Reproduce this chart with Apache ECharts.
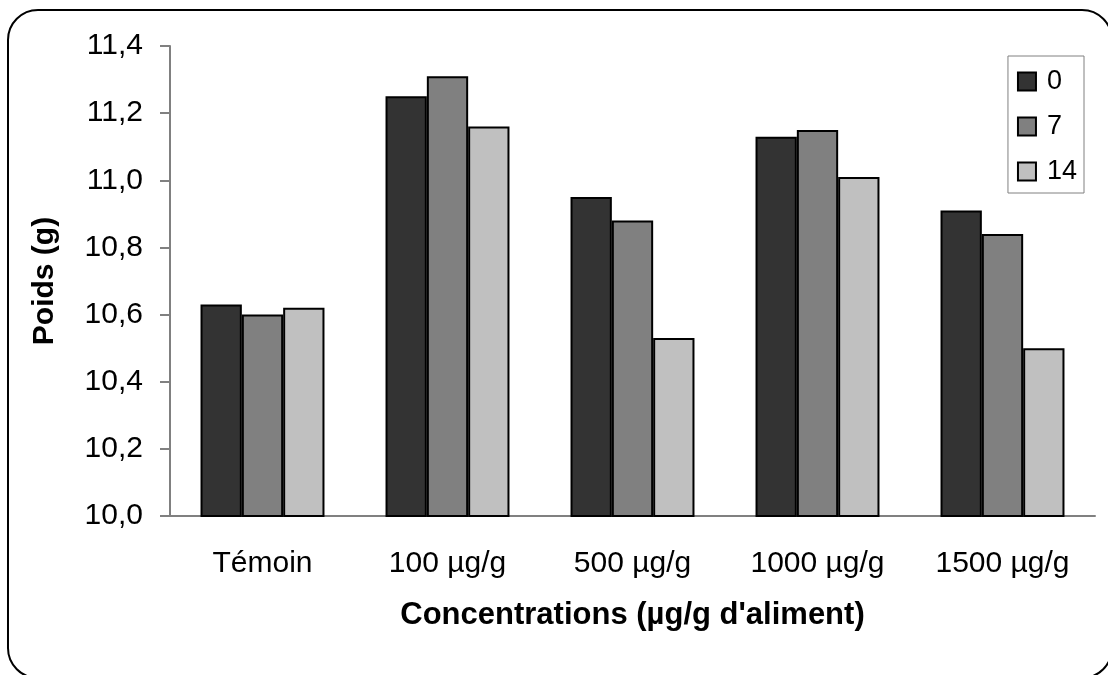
<!DOCTYPE html>
<html>
<head>
<meta charset="utf-8">
<script src="https://cdn.jsdelivr.net/npm/echarts@6/dist/echarts.min.js"></script>
<style>
  html, body { margin: 0; padding: 0; background: #ffffff; overflow: hidden; }
  #chart { width: 1108px; height: 675px; }
</style>
</head>
<body>
<div id="chart"></div>
<script>
// Concentrations tested and body weight (g) measured at day 0, 7 and 14
const categories = ['Témoin', '100 µg/g', '500 µg/g', '1000 µg/g', '1500 µg/g'];
const seriesNames = ['0', '7', '14'];
const day0 = [10.63, 11.25, 10.95, 11.13, 10.91];
const day7 = [10.60, 11.31, 10.88, 11.15, 10.84];
const day14 = [10.62, 11.16, 10.53, 11.01, 10.50];
const yTicks = ['10,0', '10,2', '10,4', '10,6', '10,8', '11,0', '11,2', '11,4'];

const colors = ['#333333', '#808080', '#c0c0c0'];
const font = 'Liberation Sans, Arial, sans-serif';

const chart = echarts.init(document.getElementById('chart'), null, { renderer: 'canvas' });

function barSeries(name, data, color) {
  return {
    name: name,
    type: 'bar',
    data: data,
    barGap: '0%',
    barCategoryGap: '33%',
    itemStyle: { color: color, borderColor: '#000000', borderWidth: 2 }
  };
}

chart.setOption({
  animation: false,
  backgroundColor: '#ffffff',
  textStyle: { fontFamily: font },
  graphic: [{
    // rounded chart-area frame
    type: 'rect',
    shape: { x: 8, y: 10, width: 1104, height: 668, r: 30 },
    style: { fill: 'none', stroke: '#000000', lineWidth: 2 },
    z: -1
  }],
  grid: { left: 170, right: 13, top: 46, bottom: 159 },
  legend: {
    orient: 'vertical',
    right: 24,
    top: 56,
    padding: [12, 7, 8, 9],
    itemGap: 18,
    itemWidth: 18,
    itemHeight: 18,
    borderColor: '#808080',
    borderWidth: 1,
    backgroundColor: '#ffffff',
    data: seriesNames.map(n => ({ name: n, icon: 'rect' })),
    textStyle: { fontFamily: font, fontSize: 27, color: '#000000', padding: [0, 0, 0, 6] },
    itemStyle: { borderColor: '#000000', borderWidth: 2 }
  },
  xAxis: {
    type: 'category',
    data: categories,
    name: "Concentrations (µg/g d'aliment)",
    nameLocation: 'middle',
    nameGap: 84,
    nameTextStyle: { fontFamily: font, fontSize: 31, fontWeight: 'bold', color: '#000000' },
    axisLine: { lineStyle: { color: '#808080', width: 2 } },
    axisTick: { alignWithLabel: false, length: 10, lineStyle: { color: '#808080', width: 2 } },
    axisLabel: { margin: 33, fontFamily: font, fontSize: 30, color: '#000000' },
    splitLine: { show: false }
  },
  yAxis: {
    type: 'value',
    min: 10.0,
    max: 11.4,
    interval: 0.2,
    name: 'Poids (g)',
    nameLocation: 'middle',
    nameGap: 110,
    nameTextStyle: { fontFamily: font, fontSize: 30, fontWeight: 'bold', color: '#000000' },
    axisLine: { show: true, lineStyle: { color: '#808080', width: 2 } },
    axisTick: { show: true, length: 10, lineStyle: { color: '#808080', width: 2 } },
    axisLabel: {
      margin: 27,
      fontFamily: font,
      fontSize: 30,
      color: '#000000',
      formatter: function (v) {
        const i = Math.round((v - 10.0) / 0.2);
        return yTicks[i] !== undefined ? yTicks[i] : '';
      }
    },
    splitLine: { show: false }
  },
  series: [
    barSeries(seriesNames[0], day0, colors[0]),
    barSeries(seriesNames[1], day7, colors[1]),
    barSeries(seriesNames[2], day14, colors[2])
  ]
});
</script>
</body>
</html>
